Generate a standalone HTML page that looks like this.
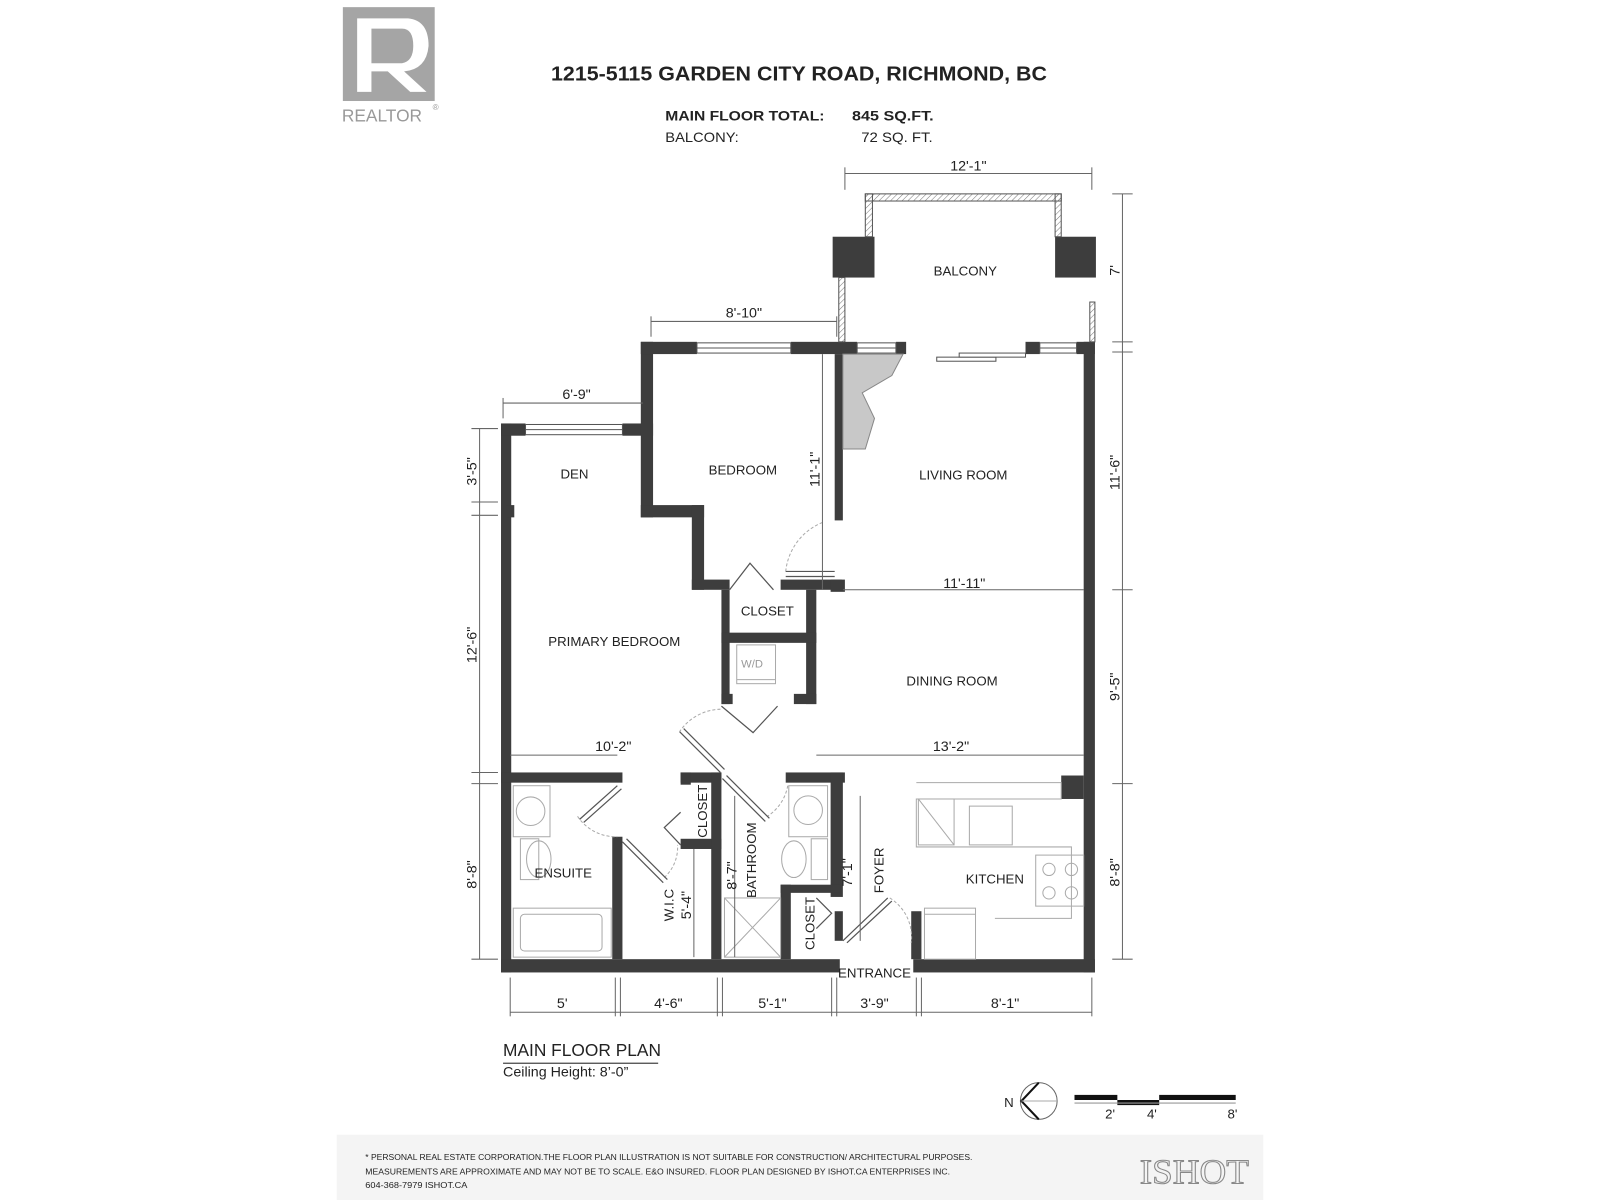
<!DOCTYPE html>
<html><head><meta charset="utf-8"><style>
html,body{margin:0;padding:0;background:#fff;}
svg{display:block;}
text{font-family:"Liberation Sans",sans-serif;fill:#222;}
</style></head><body>
<svg width="1600" height="1200" viewBox="0 0 1568 1176" xmlns="http://www.w3.org/2000/svg">
<defs>
<pattern id="h" width="4" height="4" patternUnits="userSpaceOnUse" patternTransform="rotate(45)"><line x1="0" y1="0" x2="0" y2="4" stroke="#777" stroke-width="1"/></pattern>
</defs>
<rect x="336" y="7" width="90" height="92" fill="#a5a5a5"/>
<path d="M350 18 H400 Q420 20 420 45 Q418 68 396 70 L418 90 H402 L380 70 H364 V90 H350 Z" fill="#fff"/>
<path d="M364 28 V62 H394 Q405 60 405 45 Q405 28 394 28 Z" fill="#a5a5a5"/>
<text x="335" y="119" font-size="17" style="fill:#999">REALTOR</text>
<text x="424" y="108" font-size="8" style="fill:#999">®</text>
<text x="540" y="79" font-size="20" font-weight="bold" textLength="486" lengthAdjust="spacingAndGlyphs">1215-5115 GARDEN CITY ROAD, RICHMOND, BC</text>
<text x="652" y="118" font-size="14" font-weight="bold" textLength="156" lengthAdjust="spacingAndGlyphs">MAIN FLOOR TOTAL:</text>
<text x="835" y="118" font-size="14" font-weight="bold" textLength="80" lengthAdjust="spacingAndGlyphs">845 SQ.FT.</text>
<text x="652" y="139" font-size="14" textLength="72" lengthAdjust="spacingAndGlyphs">BALCONY:</text>
<text x="844" y="139" font-size="14" textLength="70" lengthAdjust="spacingAndGlyphs">72 SQ. FT.</text>

<g fill="#3d3d3d">
<rect x="816" y="232" width="41" height="40"/>
<rect x="1034" y="232" width="40" height="40"/>
<rect x="491" y="415" width="10" height="538"/>
<rect x="491" y="415" width="24" height="12"/>
<rect x="610" y="415" width="30" height="12"/>
<rect x="628" y="335" width="12" height="172"/>
<rect x="628" y="495" width="62" height="12"/>
<rect x="678" y="495" width="12" height="83"/>
<rect x="678" y="568" width="37" height="10"/>
<rect x="765" y="568" width="60" height="10"/>
<rect x="496" y="495" width="8" height="12"/>
<rect x="628" y="335" width="55" height="12"/>
<rect x="775" y="335" width="65" height="12"/>
<rect x="878" y="335" width="10" height="12"/>
<rect x="818" y="347" width="8" height="163"/>
<rect x="814" y="568" width="14" height="12"/>
<rect x="1005" y="335" width="14" height="12"/>
<rect x="1055" y="335" width="18" height="12"/>
<rect x="1062" y="335" width="11" height="618"/>
<rect x="1040" y="760" width="22" height="23"/>
<rect x="707" y="578" width="8" height="112"/>
<rect x="790" y="578" width="10" height="112"/>
<rect x="707" y="620" width="93" height="10"/>
<rect x="707" y="680" width="11" height="10"/>
<rect x="778" y="680" width="22" height="10"/>
<rect x="491" y="757" width="119" height="10"/>
<rect x="600" y="820" width="10" height="120"/>
<rect x="667" y="757" width="40" height="10"/>
<rect x="667" y="757" width="10" height="12"/>
<rect x="667" y="822" width="40" height="10"/>
<rect x="697" y="757" width="10" height="183"/>
<rect x="770" y="757" width="58" height="10"/>
<rect x="814" y="757" width="12" height="122"/>
<rect x="765" y="867" width="59" height="8"/>
<rect x="765" y="867" width="10" height="73"/>
<rect x="818" y="893" width="8" height="29"/>
<rect x="893" y="893" width="10" height="47"/>
<rect x="491" y="940" width="332" height="13"/>
<rect x="895" y="940" width="178" height="13"/>
</g>
<g fill="url(#h)" stroke="#555" stroke-width="1">
<rect x="848" y="190" width="192" height="7"/>
<rect x="848" y="190" width="7" height="42"/>
<rect x="1034" y="190" width="6" height="42"/>
<rect x="822" y="272" width="6" height="63"/>
<rect x="1068" y="296" width="5" height="39"/>
</g>
<g fill="#fff" stroke="#555" stroke-width="1">
<rect x="515" y="416" width="95" height="10"/><line x1="515" y1="421" x2="610" y2="421"/>
<rect x="683" y="336" width="92" height="10"/><line x1="683" y1="341" x2="775" y2="341"/>
<rect x="840" y="336" width="38" height="10"/><line x1="840" y1="341" x2="878" y2="341"/>
<rect x="1019" y="336" width="36" height="10"/><line x1="1019" y1="341" x2="1055" y2="341"/>
<rect x="918" y="350" width="58" height="4"/><rect x="940" y="346" width="65" height="4"/>
</g>
<polygon points="826,347 885,347 874,368 845,385 857,410 848,440 826,440" fill="#c8c8c8" stroke="#888" stroke-width="1"/>
<g fill="none" stroke="#aaa" stroke-width="1">
<rect x="722" y="632" width="38" height="38"/><line x1="722" y1="666" x2="760" y2="666"/>
<rect x="503" y="770" width="36" height="50"/><ellipse cx="520" cy="795" rx="14" ry="14"/>
<rect x="510" y="822" width="18" height="40"/><ellipse cx="528" cy="842" rx="12" ry="18"/>
<rect x="503" y="890" width="96" height="48"/><rect x="510" y="896" width="80" height="36" rx="4"/>
<rect x="773" y="770" width="38" height="50"/><ellipse cx="792" cy="794" rx="14" ry="14"/>
<rect x="795" y="822" width="16" height="40"/><ellipse cx="778" cy="842" rx="12" ry="18"/>
<rect x="710" y="880" width="55" height="58"/><line x1="710" y1="880" x2="765" y2="938"/><line x1="765" y1="880" x2="710" y2="938"/>
<polyline points="898,767 1040,767 1040,783 898,783 898,830 1050,830 1050,900 975,900"/>
<rect x="900" y="783" width="35" height="45"/><line x1="900" y1="783" x2="935" y2="828"/>
<rect x="950" y="790" width="42" height="38"/>
<rect x="1015" y="838" width="47" height="50"/>
<circle cx="1028" cy="852" r="6"/><circle cx="1050" cy="852" r="6"/><circle cx="1028" cy="875" r="6"/><circle cx="1050" cy="875" r="6"/>
<rect x="906" y="890" width="50" height="50"/><line x1="906" y1="896" x2="956" y2="896"/>
<path d="M806 512 A58 58 0 0 0 770 560" stroke-dasharray="3,2"/>
<path d="M706 695 A50 50 0 0 0 666 717" stroke-dasharray="3,2"/>
<path d="M566 800 A45 45 0 0 0 605 820" stroke-dasharray="3,2"/>
<path d="M651 860 A40 40 0 0 0 664 828" stroke-dasharray="3,2"/>
<path d="M772 770 A45 45 0 0 1 752 800" stroke-dasharray="3,2"/>
<path d="M872 880 A45 45 0 0 1 893 924" stroke-dasharray="3,2"/>
</g>
<g fill="none" stroke="#555" stroke-width="1.2">
<line x1="770" y1="560" x2="818" y2="560"/><line x1="770" y1="565" x2="818" y2="565"/>
<polyline points="715,578 735,552 758,578"/>
<polyline points="707,692 738,718 762,692"/>
<line x1="666" y1="717" x2="706" y2="757"/><line x1="670" y1="714" x2="710" y2="754"/>
<line x1="568" y1="803" x2="605" y2="770"/><line x1="572" y1="806" x2="609" y2="773"/>
<line x1="610" y1="825" x2="650" y2="865"/><line x1="614" y1="822" x2="654" y2="862"/>
<polyline points="667,796 651,811 667,828"/>
<line x1="708" y1="763" x2="750" y2="805"/><line x1="712" y1="760" x2="754" y2="802"/>
<polyline points="800,880 815,895 800,910"/>
<line x1="826" y1="922" x2="870" y2="880"/><line x1="830" y1="924" x2="874" y2="883"/>
</g>
<g stroke="#666" stroke-width="1" fill="none">
<line x1="828" y1="170" x2="1070" y2="170"/><line x1="828" y1="164" x2="828" y2="186"/><line x1="1070" y1="164" x2="1070" y2="186"/>
<line x1="638" y1="315" x2="820" y2="315"/><line x1="638" y1="310" x2="638" y2="330"/><line x1="820" y1="310" x2="820" y2="330"/>
<line x1="493" y1="395" x2="630" y2="395"/><line x1="493" y1="390" x2="493" y2="410"/>
<line x1="806" y1="347" x2="806" y2="578"/>
<line x1="826" y1="578" x2="1062" y2="578"/>
<line x1="500" y1="740" x2="605" y2="740"/>
<line x1="800" y1="740" x2="1062" y2="740"/>
<line x1="1100" y1="190" x2="1100" y2="940"/>
<line x1="1090" y1="190" x2="1110" y2="190"/><line x1="1090" y1="335" x2="1110" y2="335"/><line x1="1090" y1="345" x2="1110" y2="345"/><line x1="1090" y1="578" x2="1110" y2="578"/><line x1="1090" y1="768" x2="1110" y2="768"/><line x1="1090" y1="940" x2="1110" y2="940"/>
<line x1="470" y1="420" x2="470" y2="940"/>
<line x1="462" y1="420" x2="488" y2="420"/><line x1="462" y1="492" x2="488" y2="492"/><line x1="462" y1="505" x2="488" y2="505"/><line x1="462" y1="757" x2="488" y2="757"/><line x1="462" y1="768" x2="488" y2="768"/><line x1="462" y1="940" x2="488" y2="940"/>
<line x1="500" y1="992" x2="1070" y2="992"/>
<line x1="500" y1="958" x2="500" y2="996"/><line x1="603" y1="958" x2="603" y2="996"/><line x1="608" y1="958" x2="608" y2="996"/><line x1="703" y1="958" x2="703" y2="996"/><line x1="708" y1="958" x2="708" y2="996"/><line x1="815" y1="958" x2="815" y2="996"/><line x1="820" y1="958" x2="820" y2="996"/><line x1="898" y1="958" x2="898" y2="996"/><line x1="903" y1="958" x2="903" y2="996"/><line x1="1070" y1="958" x2="1070" y2="996"/>
<line x1="720" y1="780" x2="720" y2="938"/>
<line x1="680" y1="832" x2="680" y2="938"/>
<line x1="843" y1="780" x2="843" y2="922"/>
</g>
<g font-size="13" text-anchor="middle">
<text x="946" y="270">BALCONY</text>
<text x="563" y="469">DEN</text>
<text x="728" y="465">BEDROOM</text>
<text x="944" y="470">LIVING ROOM</text>
<text x="752" y="603">CLOSET</text>
<text x="737" y="654" style="fill:#999" font-size="11">W/D</text>
<text x="602" y="633">PRIMARY BEDROOM</text>
<text x="933" y="672">DINING ROOM</text>
<text x="552" y="860">ENSUITE</text>
<text x="975" y="866">KITCHEN</text>
<text x="857" y="958">ENTRANCE</text>
<text x="949" y="167" font-size="14">12'-1"</text>
<text x="729" y="311" font-size="14">8'-10"</text>
<text x="565" y="391" font-size="14">6'-9"</text>
<text x="945" y="576" font-size="14">11'-11"</text>
<text x="601" y="736" font-size="14">10'-2"</text>
<text x="932" y="736" font-size="14">13'-2"</text>
<text x="551" y="988" font-size="14">5'</text>
<text x="655" y="988" font-size="14">4'-6"</text>
<text x="757" y="988" font-size="14">5'-1"</text>
<text x="857" y="988" font-size="14">3'-9"</text>
<text x="985" y="988" font-size="14">8'-1"</text>
<text transform="translate(803,460) rotate(-90)" font-size="14">11'-1"</text>
<text transform="translate(1097,265) rotate(-90)" font-size="14">7'</text>
<text transform="translate(1097,463) rotate(-90)" font-size="14">11'-6"</text>
<text transform="translate(1097,673) rotate(-90)" font-size="14">9'-5"</text>
<text transform="translate(1097,855) rotate(-90)" font-size="14">8'-8"</text>
<text transform="translate(467,462) rotate(-90)" font-size="14">3'-5"</text>
<text transform="translate(467,632) rotate(-90)" font-size="14">12'-6"</text>
<text transform="translate(467,857) rotate(-90)" font-size="14">8'-8"</text>
<text transform="translate(693,795) rotate(-90)">CLOSET</text>
<text transform="translate(798,905) rotate(-90)">CLOSET</text>
<text transform="translate(741,843) rotate(-90)">BATHROOM</text>
<text transform="translate(722,858) rotate(-90)" font-size="14">8'-7"</text>
<text transform="translate(660,887) rotate(-90)">W.I.C</text>
<text transform="translate(677,887) rotate(-90)" font-size="14">5'-4"</text>
<text transform="translate(835,855) rotate(-90)" font-size="14">7'-1"</text>
<text transform="translate(866,853) rotate(-90)">FOYER</text>
</g>
<text x="493" y="1035" font-size="17">MAIN FLOOR PLAN</text>
<line x1="493" y1="1042" x2="645" y2="1042" stroke="#444" stroke-width="1.2"/>
<text x="493" y="1055" font-size="14">Ceiling Height: 8’-0”</text>
<text x="984" y="1085" font-size="13">N</text>
<circle cx="1018" cy="1079" r="18" fill="none" stroke="#666" stroke-width="1"/>
<polyline points="1018,1061 1001,1079 1018,1097" fill="none" stroke="#111" stroke-width="2"/>
<line x1="1001" y1="1079" x2="1036" y2="1079" stroke="#aaa" stroke-width="1"/>
<rect x="1053" y="1073" width="42" height="5" fill="#111"/>
<rect x="1095" y="1078" width="41" height="5" fill="#111"/>
<rect x="1136" y="1073" width="75" height="5" fill="#111"/>
<line x1="1053" y1="1081" x2="1211" y2="1081" stroke="#999"/>
<text x="1083" y="1096" font-size="13">2'</text>
<text x="1124" y="1096" font-size="13">4'</text>
<text x="1203" y="1096" font-size="13">8'</text>
<rect x="330" y="1112" width="908" height="64" fill="#f4f4f4"/>
<g font-size="8.5">
<text x="358" y="1137" textLength="595" lengthAdjust="spacingAndGlyphs">* PERSONAL REAL ESTATE CORPORATION.THE FLOOR PLAN ILLUSTRATION IS NOT SUITABLE FOR CONSTRUCTION/ ARCHITECTURAL PURPOSES.</text>
<text x="358" y="1151" textLength="573" lengthAdjust="spacingAndGlyphs">MEASUREMENTS ARE APPROXIMATE AND MAY NOT BE TO SCALE. E&amp;O INSURED. FLOOR PLAN DESIGNED BY ISHOT.CA ENTERPRISES INC.</text>
<text x="358" y="1164" textLength="100" lengthAdjust="spacingAndGlyphs">604-368-7979  ISHOT.CA</text>
</g>
<text x="1117" y="1160" font-size="34" style="fill:none;stroke:#888;stroke-width:1;font-family:'Liberation Serif',serif" textLength="107" lengthAdjust="spacingAndGlyphs">ISHOT</text>
</svg>
</body></html>
